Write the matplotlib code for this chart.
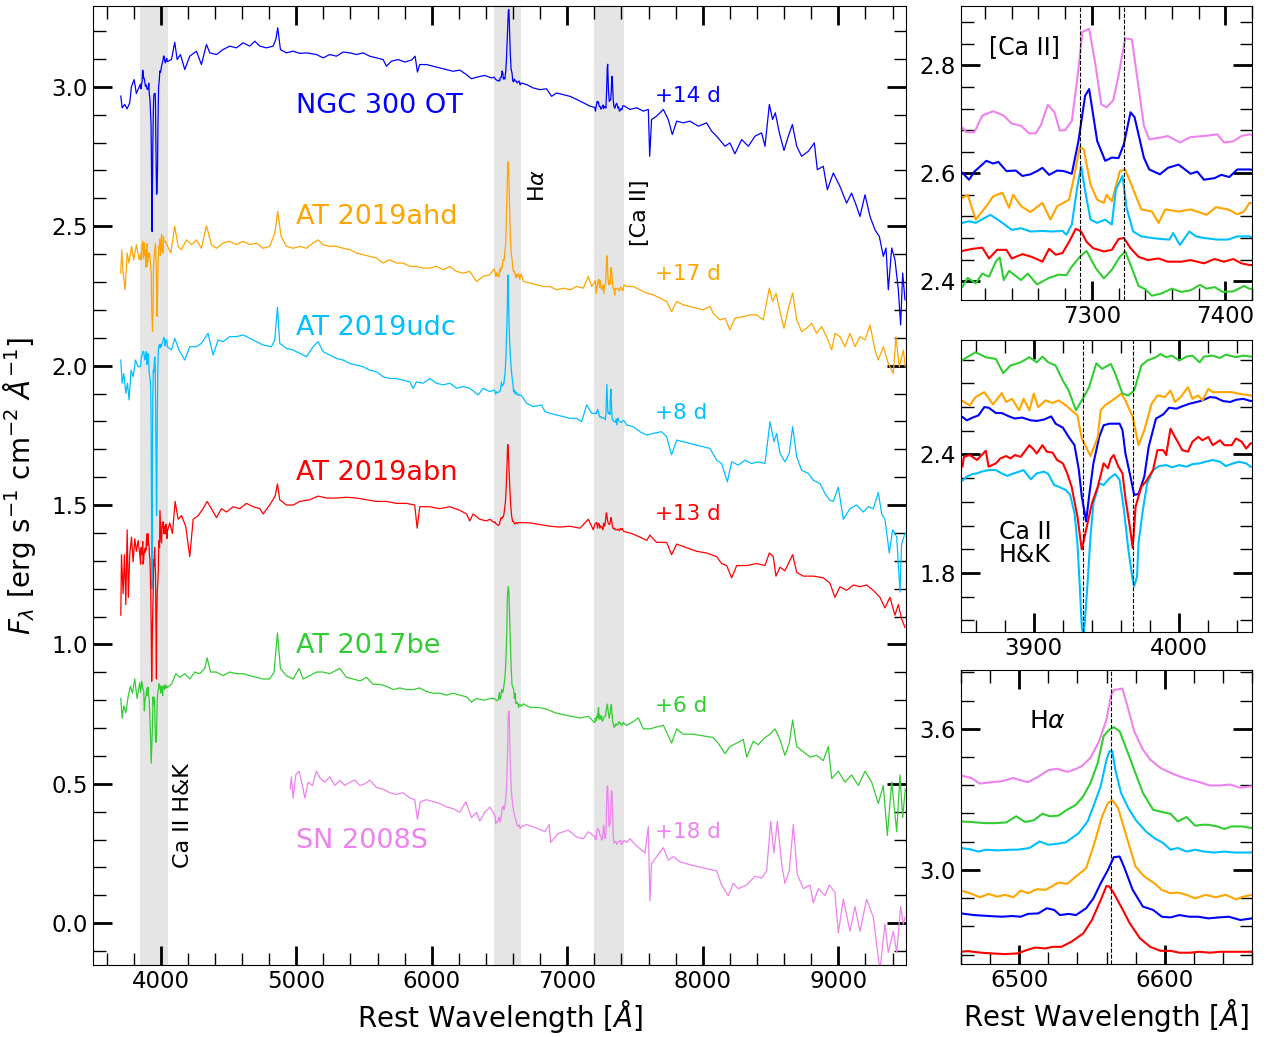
import numpy as np
import matplotlib.pyplot as plt
from matplotlib.ticker import MultipleLocator

# spectra as (rest wavelength [A], flux) pairs, flux already in the stacked units of the left panel
ngc300 = np.array([
    (3705, 2.967), (3715, 2.925), (3734, 2.937), (3751, 2.921), (3771, 2.943),
    (3783, 3.000), (3803, 3.026), (3820, 2.976), (3845, 3.005),
    (3851, 3.010), (3854, 2.993), (3858, 3.007), (3862, 3.018), (3866, 3.060),
    (3869, 3.057), (3874, 3.030), (3878, 3.030), (3883, 3.013), (3887, 3.002),
    (3892, 3.007), (3898, 2.993), (3902, 2.990), (3907, 2.997), (3912, 3.013),
    (3915, 2.976), (3920, 2.956), (3924, 2.909), (3928, 2.867), (3931, 2.741),
    (3933, 2.607), (3936, 2.481), (3938, 2.607), (3941, 2.775), (3945, 2.909),
    (3948, 2.968), (3952, 2.976), (3959, 2.976), (3961, 2.943), (3963, 2.825),
    (3966, 2.724), (3969, 2.615), (3972, 2.620), (3976, 2.708), (3979, 2.859),
    (3984, 3.002), (3989, 3.023), (3993, 3.057), (3998, 3.052), (4002, 3.064),
    (4007, 3.077), (4012, 3.086), (4016, 3.094), (4021, 3.111), (4025, 3.108),
    (4030, 3.091), (4035, 3.086), (4039, 3.097), (4044, 3.102), (4049, 3.091),
    (4079, 3.098), (4103, 3.160), (4121, 3.098), (4145, 3.116), (4177, 3.062),
    (4214, 3.110), (4263, 3.128), (4300, 3.080), (4337, 3.152), (4362, 3.122),
    (4411, 3.116), (4460, 3.134), (4509, 3.146), (4558, 3.140), (4608, 3.158),
    (4657, 3.146), (4694, 3.164), (4731, 3.146), (4780, 3.140), (4829, 3.146),
    (4849, 3.170), (4863, 3.212), (4883, 3.134), (4927, 3.122), (4977, 3.128),
    (5026, 3.120), (5075, 3.122), (5149, 3.116), (5198, 3.104), (5247, 3.116),
    (5296, 3.110), (5346, 3.125), (5395, 3.122), (5444, 3.116), (5493, 3.122),
    (5542, 3.110), (5592, 3.104), (5641, 3.098), (5665, 3.074), (5702, 3.092),
    (5752, 3.098), (5801, 3.089), (5850, 3.096), (5877, 3.110), (5894, 3.053),
    (5911, 3.080), (5961, 3.080), (6010, 3.074), (6059, 3.068), (6108, 3.062),
    (6157, 3.056), (6207, 3.060), (6256, 3.044), (6293, 3.029), (6342, 3.036),
    (6391, 3.041), (6440, 3.032),
    (6460, 3.035), (6469, 3.028), (6479, 3.024), (6488, 3.021), (6495, 3.024),
    (6501, 3.021), (6506, 3.033), (6513, 3.035), (6519, 3.057), (6524, 3.050),
    (6528, 3.028), (6534, 3.033), (6539, 3.028), (6546, 3.057), (6551, 3.099),
    (6556, 3.163), (6561, 3.220), (6565, 3.274), (6569, 3.277), (6572, 3.234),
    (6578, 3.135), (6585, 3.064), (6592, 3.050), (6598, 3.021), (6604, 3.018),
    (6610, 3.028), (6617, 3.021), (6623, 3.021), (6630, 3.014), (6637, 3.018),
    (6644, 3.021), (6652, 3.007), (6660, 3.014),
    (6700, 3.008), (6749, 2.996), (6798, 2.990), (6847, 2.993), (6884, 2.966),
    (6921, 2.978), (6971, 2.972), (7020, 2.966), (7069, 2.955), (7118, 2.943),
    (7167, 2.931),
    (7203, 2.926), (7208, 2.913), (7212, 2.928), (7221, 2.948), (7226, 2.943),
    (7230, 2.946), (7236, 2.929), (7243, 2.930), (7248, 2.920), (7254, 2.923),
    (7259, 2.929), (7263, 2.935), (7268, 2.922), (7274, 2.930), (7279, 2.929),
    (7285, 2.924), (7290, 2.985), (7295, 3.069), (7298, 3.081), (7304, 2.985),
    (7310, 2.948), (7315, 2.954), (7320, 2.953), (7324, 2.979), (7329, 3.038),
    (7332, 3.029), (7339, 2.954), (7343, 2.932), (7351, 2.923), (7357, 2.935),
    (7365, 2.941), (7374, 2.924), (7379, 2.928), (7384, 2.913), (7392, 2.916),
    (7397, 2.922), (7403, 2.918), (7409, 2.932), (7418, 2.932),
    (7462, 2.919), (7512, 2.925), (7561, 2.913), (7598, 2.919), (7608, 2.751),
    (7622, 2.883), (7659, 2.895), (7709, 2.919), (7745, 2.883), (7775, 2.829),
    (7807, 2.877), (7856, 2.871), (7905, 2.877), (7967, 2.859), (8028, 2.871),
    (8065, 2.841), (8102, 2.823), (8164, 2.787), (8200, 2.799), (8237, 2.760),
    (8287, 2.811), (8336, 2.787), (8385, 2.823), (8434, 2.835), (8459, 2.787),
    (8491, 2.937), (8515, 2.883), (8535, 2.907), (8565, 2.835), (8599, 2.772),
    (8631, 2.823), (8661, 2.865), (8693, 2.787), (8729, 2.751), (8779, 2.769),
    (8823, 2.799), (8845, 2.703), (8889, 2.715), (8919, 2.631), (8963, 2.691),
    (9012, 2.643), (9061, 2.583), (9098, 2.619), (9135, 2.571), (9160, 2.535),
    (9197, 2.613), (9234, 2.535), (9271, 2.487), (9303, 2.463), (9332, 2.392),
    (9352, 2.422), (9369, 2.272), (9394, 2.422), (9418, 2.380), (9443, 2.272),
    (9460, 2.146), (9475, 2.332), (9492, 2.236),
])

at19ahd = np.array([
    (3705, 2.332), (3712, 2.416), (3722, 2.332), (3737, 2.272), (3752, 2.404),
    (3766, 2.368), (3784, 2.428), (3801, 2.380), (3820, 2.434), (3840, 2.380),
    (3851, 2.401), (3856, 2.379), (3860, 2.421), (3866, 2.446), (3872, 2.384),
    (3878, 2.441), (3881, 2.396), (3885, 2.412), (3890, 2.354), (3893, 2.412),
    (3897, 2.354), (3900, 2.438), (3903, 2.370), (3908, 2.404), (3913, 2.391),
    (3917, 2.404), (3922, 2.379), (3926, 2.354), (3930, 2.328), (3933, 2.211),
    (3939, 2.122), (3944, 2.219), (3946, 2.354), (3949, 2.379), (3954, 2.404),
    (3960, 2.438), (3963, 2.404), (3968, 2.320), (3972, 2.177), (3976, 2.253),
    (3981, 2.387), (3985, 2.429), (3990, 2.421), (3994, 2.454), (3997, 2.396),
    (4001, 2.421), (4006, 2.471), (4009, 2.412), (4013, 2.429), (4016, 2.404),
    (4020, 2.463), (4023, 2.446), (4029, 2.446), (4036, 2.446), (4041, 2.438),
    (4049, 2.429),
    (4074, 2.404), (4103, 2.500), (4128, 2.428), (4153, 2.416), (4189, 2.451),
    (4226, 2.434), (4263, 2.451), (4300, 2.421), (4337, 2.502), (4374, 2.434),
    (4411, 2.421), (4460, 2.440), (4509, 2.446), (4558, 2.434), (4608, 2.446),
    (4657, 2.434), (4706, 2.440), (4755, 2.421), (4804, 2.428), (4841, 2.475),
    (4863, 2.553), (4888, 2.463), (4927, 2.428), (4977, 2.421), (5026, 2.428),
    (5075, 2.421), (5124, 2.440), (5161, 2.451), (5198, 2.434), (5247, 2.428),
    (5296, 2.428), (5346, 2.421), (5395, 2.416), (5444, 2.404), (5493, 2.398),
    (5542, 2.392), (5592, 2.386), (5641, 2.368), (5690, 2.380), (5739, 2.368),
    (5788, 2.368), (5838, 2.356), (5887, 2.356), (5936, 2.350), (5985, 2.350),
    (6034, 2.356), (6084, 2.344), (6133, 2.356), (6182, 2.338), (6231, 2.332),
    (6280, 2.338), (6330, 2.302), (6379, 2.320), (6428, 2.326),
    (6460, 2.347), (6466, 2.336), (6473, 2.319), (6479, 2.333), (6485, 2.321),
    (6490, 2.329), (6496, 2.319), (6501, 2.347), (6506, 2.336), (6512, 2.353),
    (6518, 2.350), (6523, 2.367), (6527, 2.381), (6533, 2.376), (6539, 2.407),
    (6546, 2.442), (6551, 2.535), (6557, 2.663), (6561, 2.720), (6564, 2.731),
    (6568, 2.698), (6573, 2.592), (6580, 2.449), (6586, 2.407), (6593, 2.378),
    (6598, 2.350), (6604, 2.336), (6609, 2.339), (6615, 2.329), (6621, 2.314),
    (6628, 2.329), (6635, 2.319), (6642, 2.329), (6649, 2.310), (6654, 2.321),
    (6660, 2.329),
    (6675, 2.302), (6725, 2.296), (6774, 2.290), (6823, 2.284), (6872, 2.284),
    (6921, 2.272), (6971, 2.278), (7020, 2.272), (7069, 2.284), (7118, 2.278),
    (7155, 2.320), (7180, 2.284),
    (7203, 2.299), (7207, 2.305), (7213, 2.259), (7221, 2.284), (7226, 2.302),
    (7233, 2.309), (7238, 2.281), (7241, 2.305), (7247, 2.284), (7254, 2.273),
    (7263, 2.290), (7269, 2.259), (7274, 2.284), (7283, 2.296), (7286, 2.330),
    (7291, 2.394), (7294, 2.389), (7299, 2.324), (7304, 2.296), (7309, 2.290),
    (7311, 2.305), (7315, 2.293), (7321, 2.349), (7325, 2.352), (7332, 2.309),
    (7337, 2.278), (7345, 2.274), (7350, 2.253), (7355, 2.278), (7365, 2.274),
    (7374, 2.278), (7386, 2.268), (7393, 2.282), (7402, 2.278), (7409, 2.269),
    (7414, 2.274), (7418, 2.290),
    (7438, 2.284), (7487, 2.284), (7536, 2.272), (7586, 2.260), (7635, 2.254),
    (7684, 2.242), (7733, 2.230), (7770, 2.194), (7807, 2.230), (7856, 2.218),
    (7905, 2.212), (7954, 2.206), (8004, 2.200), (8053, 2.212), (8077, 2.188),
    (8127, 2.164), (8164, 2.170), (8200, 2.128), (8237, 2.170), (8299, 2.176),
    (8348, 2.182), (8397, 2.182), (8446, 2.164), (8491, 2.278), (8515, 2.230),
    (8540, 2.260), (8570, 2.194), (8599, 2.134), (8631, 2.206), (8663, 2.260),
    (8693, 2.164), (8729, 2.122), (8766, 2.134), (8803, 2.152), (8840, 2.116),
    (8877, 2.140), (8914, 2.104), (8951, 2.056), (8975, 2.116), (9012, 2.104),
    (9049, 2.068), (9086, 2.116), (9123, 2.068), (9160, 2.104), (9197, 2.092),
    (9234, 2.146), (9271, 2.056), (9295, 2.020), (9332, 2.068), (9369, 2.008),
    (9406, 1.972), (9425, 2.104), (9450, 1.996), (9480, 2.056), (9494, 1.996),
])

at19udc = np.array([
    (3705, 2.020), (3715, 1.937), (3727, 1.972), (3742, 1.901), (3754, 1.937),
    (3766, 1.877), (3781, 1.984), (3796, 1.960), (3813, 2.020), (3833, 1.996),
    (3851, 1.997), (3854, 2.018), (3858, 2.031), (3861, 2.034), (3864, 2.043),
    (3869, 2.051), (3874, 2.051), (3878, 2.034), (3882, 2.021), (3885, 2.031),
    (3890, 2.043), (3893, 2.051), (3898, 2.004), (3902, 2.034), (3907, 2.043),
    (3910, 2.031), (3914, 1.975), (3917, 1.967), (3922, 1.950), (3925, 1.925),
    (3928, 1.833), (3930, 1.681), (3931.5, 1.480), (3933, 1.260), (3934, 1.200),
    (3935, 1.270), (3937, 1.480), (3939, 1.715), (3941, 1.883), (3945, 1.984),
    (3948, 1.975), (3952, 2.009), (3956, 2.031), (3959, 2.001), (3962, 1.849),
    (3965, 1.648), (3968, 1.496), (3969, 1.463), (3971, 1.513), (3972, 1.681),
    (3975, 1.849), (3978, 1.984), (3982, 2.051), (3986, 2.071), (3991, 2.076),
    (3995, 2.065), (4000, 2.076), (4005, 2.068), (4009, 2.081), (4014, 2.085),
    (4018, 2.093), (4023, 2.102), (4028, 2.093), (4032, 2.071), (4037, 2.085),
    (4041, 2.093), (4046, 2.085), (4049, 2.068),
    (4079, 2.056), (4103, 2.098), (4135, 2.056), (4177, 2.020), (4214, 2.068),
    (4263, 2.068), (4300, 2.080), (4349, 2.116), (4386, 2.038), (4423, 2.092),
    (4460, 2.086), (4509, 2.104), (4558, 2.104), (4608, 2.110), (4657, 2.098),
    (4706, 2.086), (4755, 2.074), (4817, 2.068), (4841, 2.092), (4861, 2.210),
    (4878, 2.080), (4927, 2.062), (4977, 2.056), (5026, 2.044), (5075, 2.032),
    (5124, 2.068), (5161, 2.086), (5198, 2.050), (5247, 2.038), (5296, 2.026),
    (5346, 2.020), (5395, 2.008), (5444, 2.002), (5493, 1.996), (5542, 1.984),
    (5592, 1.978), (5641, 1.960), (5690, 1.954), (5739, 1.954), (5788, 1.948),
    (5838, 1.942), (5862, 1.918), (5887, 1.942), (5936, 1.937), (5985, 1.954),
    (6034, 1.937), (6084, 1.931), (6133, 1.937), (6182, 1.919), (6231, 1.925),
    (6280, 1.919), (6342, 1.895), (6379, 1.919), (6428, 1.907),
    (6460, 1.913), (6466, 1.908), (6472, 1.898), (6477, 1.906), (6485, 1.903),
    (6494, 1.906), (6499, 1.906), (6507, 1.913), (6514, 1.941), (6520, 1.927),
    (6526, 1.931), (6532, 1.937), (6536, 1.955), (6541, 1.977), (6547, 2.026),
    (6551, 2.090), (6556, 2.176), (6560, 2.289), (6562, 2.325), (6564, 2.325),
    (6566, 2.247), (6570, 2.147), (6575, 2.083), (6580, 2.033), (6587, 1.984),
    (6593, 1.955), (6599, 1.934), (6604, 1.906), (6609, 1.913), (6615, 1.898),
    (6621, 1.906), (6627, 1.898), (6634, 1.894), (6641, 1.898), (6648, 1.894),
    (6660, 1.894),
    (6700, 1.865), (6749, 1.853), (6811, 1.859), (6835, 1.835), (6872, 1.829),
    (6921, 1.823), (6971, 1.817), (7020, 1.811), (7069, 1.811), (7106, 1.799),
    (7143, 1.859), (7180, 1.829),
    (7203, 1.828), (7208, 1.831), (7213, 1.828), (7224, 1.843), (7233, 1.828),
    (7240, 1.815), (7247, 1.818), (7254, 1.812), (7263, 1.813), (7270, 1.812),
    (7278, 1.813), (7281, 1.806), (7285, 1.825), (7289, 1.893), (7292, 1.933),
    (7295, 1.887), (7299, 1.834), (7304, 1.828), (7310, 1.834), (7315, 1.825),
    (7318, 1.890), (7323, 1.915), (7326, 1.856), (7331, 1.812), (7337, 1.803),
    (7345, 1.800), (7352, 1.798), (7358, 1.797), (7361, 1.809), (7366, 1.787),
    (7373, 1.812), (7378, 1.803), (7384, 1.800), (7394, 1.797), (7402, 1.797),
    (7409, 1.803), (7418, 1.803),
    (7438, 1.787), (7487, 1.781), (7536, 1.763), (7586, 1.751), (7635, 1.757),
    (7696, 1.763), (7733, 1.745), (7770, 1.680), (7807, 1.733), (7856, 1.727),
    (7905, 1.721), (7954, 1.715), (8004, 1.709), (8053, 1.703), (8102, 1.661),
    (8139, 1.649), (8181, 1.583), (8213, 1.655), (8262, 1.643), (8311, 1.661),
    (8360, 1.649), (8409, 1.655), (8459, 1.649), (8496, 1.799), (8525, 1.727),
    (8545, 1.757), (8570, 1.685), (8606, 1.655), (8638, 1.685), (8663, 1.781),
    (8693, 1.673), (8729, 1.625), (8779, 1.613), (8816, 1.589), (8865, 1.577),
    (8902, 1.541), (8938, 1.517), (8963, 1.513), (9000, 1.564), (9037, 1.449),
    (9086, 1.487), (9135, 1.500), (9184, 1.475), (9221, 1.494), (9258, 1.487),
    (9295, 1.545), (9320, 1.468), (9344, 1.449), (9376, 1.328), (9401, 1.411),
    (9431, 1.385), (9455, 1.188), (9467, 1.360), (9492, 1.398),
])

at19abn = np.array([
    (3705, 1.105), (3710, 1.322), (3722, 1.182), (3732, 1.322), (3742, 1.143),
    (3752, 1.411), (3761, 1.169), (3771, 1.322), (3784, 1.385), (3796, 1.296),
    (3808, 1.379), (3820, 1.334), (3833, 1.373), (3845, 1.322),
    (3851, 1.288), (3852, 1.338), (3856, 1.347), (3861, 1.322), (3867, 1.369),
    (3869, 1.288), (3874, 1.305), (3877, 1.330), (3881, 1.342), (3884, 1.330),
    (3887, 1.347), (3891, 1.338), (3897, 1.397), (3900, 1.375), (3902, 1.355),
    (3906, 1.397), (3909, 1.364), (3913, 1.359), (3916, 1.322), (3920, 1.305),
    (3923, 1.254), (3926, 1.187), (3930, 1.036), (3933, 0.868), (3937, 1.002),
    (3940, 1.103), (3944, 1.187), (3948, 1.305), (3951, 1.280), (3953, 1.330),
    (3955, 1.347), (3958, 1.291), (3961, 1.254), (3963, 1.128), (3966, 0.985),
    (3968, 0.876), (3970, 1.086), (3974, 1.187), (3977, 1.212), (3982, 1.271),
    (3985, 1.372), (3989, 1.372), (3991, 1.347), (3994, 1.481), (3997, 1.439),
    (3999, 1.414), (4002, 1.372), (4006, 1.364), (4009, 1.414), (4013, 1.439),
    (4016, 1.422), (4020, 1.439), (4023, 1.397), (4028, 1.422), (4031, 1.397),
    (4036, 1.397), (4039, 1.431), (4043, 1.414), (4046, 1.380), (4049, 1.406),
    (4066, 1.436), (4086, 1.398), (4106, 1.513), (4128, 1.449), (4153, 1.462),
    (4184, 1.424), (4214, 1.315), (4239, 1.449), (4276, 1.462), (4312, 1.487),
    (4342, 1.513), (4374, 1.487), (4411, 1.455), (4448, 1.487), (4485, 1.475),
    (4534, 1.494), (4583, 1.487), (4632, 1.506), (4681, 1.494), (4731, 1.487),
    (4755, 1.468), (4804, 1.500), (4844, 1.532), (4861, 1.576), (4878, 1.519),
    (4927, 1.500), (4977, 1.500), (5026, 1.513), (5100, 1.519), (5161, 1.532),
    (5223, 1.525), (5296, 1.525), (5370, 1.528), (5444, 1.525), (5518, 1.519),
    (5592, 1.513), (5665, 1.513), (5739, 1.506), (5813, 1.506), (5874, 1.500),
    (5892, 1.417), (5911, 1.494), (5985, 1.494), (6059, 1.487), (6133, 1.494),
    (6207, 1.481), (6256, 1.468), (6280, 1.443), (6305, 1.468), (6354, 1.449),
    (6403, 1.443), (6429, 1.449),
    (6460, 1.437), (6465, 1.440), (6468, 1.437), (6474, 1.433), (6481, 1.430),
    (6490, 1.427), (6499, 1.430), (6505, 1.444), (6511, 1.455), (6518, 1.451),
    (6523, 1.458), (6529, 1.458), (6536, 1.480), (6544, 1.515), (6550, 1.572),
    (6556, 1.657), (6560, 1.717), (6562, 1.714), (6565, 1.686), (6570, 1.629),
    (6576, 1.558), (6583, 1.494), (6590, 1.458), (6597, 1.441), (6604, 1.441),
    (6610, 1.433), (6617, 1.433), (6624, 1.437), (6631, 1.433), (6638, 1.437),
    (6646, 1.437), (6653, 1.437), (6660, 1.437),
    (6725, 1.436), (6798, 1.430), (6872, 1.424), (6946, 1.421), (7020, 1.424),
    (7094, 1.417), (7155, 1.449), (7192, 1.411),
    (7203, 1.431), (7211, 1.435), (7218, 1.437), (7223, 1.417), (7229, 1.433),
    (7236, 1.433), (7240, 1.417), (7248, 1.425), (7255, 1.420), (7263, 1.411),
    (7268, 1.435), (7273, 1.424), (7278, 1.427), (7283, 1.448), (7288, 1.472),
    (7292, 1.467), (7296, 1.448), (7301, 1.436), (7309, 1.430), (7315, 1.433),
    (7320, 1.453), (7324, 1.455), (7329, 1.436), (7335, 1.420), (7342, 1.414),
    (7350, 1.417), (7357, 1.411), (7367, 1.411), (7374, 1.414), (7384, 1.408),
    (7392, 1.416), (7399, 1.411), (7406, 1.416), (7412, 1.408), (7418, 1.405),
    (7475, 1.398), (7536, 1.385), (7586, 1.373), (7610, 1.392), (7659, 1.366),
    (7733, 1.366), (7770, 1.322), (7807, 1.360), (7881, 1.347), (7954, 1.334),
    (8028, 1.328), (8102, 1.315), (8139, 1.290), (8176, 1.283), (8213, 1.239),
    (8250, 1.283), (8324, 1.283), (8397, 1.290), (8459, 1.283), (8491, 1.328),
    (8520, 1.315), (8540, 1.245), (8570, 1.277), (8606, 1.264), (8663, 1.322),
    (8693, 1.258), (8742, 1.245), (8816, 1.245), (8889, 1.239), (8938, 1.220),
    (8975, 1.169), (9012, 1.207), (9061, 1.194), (9111, 1.213), (9160, 1.207),
    (9209, 1.213), (9258, 1.194), (9307, 1.169), (9344, 1.131), (9381, 1.169),
    (9418, 1.105), (9443, 1.143), (9467, 1.092), (9492, 1.061),
])

at17be = np.array([
    (3705, 0.806), (3715, 0.736), (3727, 0.780), (3742, 0.755), (3759, 0.812),
    (3776, 0.850), (3791, 0.825), (3808, 0.876), (3825, 0.806), (3845, 0.863),
    (3851, 0.829), (3860, 0.868), (3867, 0.843), (3874, 0.834), (3879, 0.762),
    (3884, 0.801), (3891, 0.817), (3897, 0.843), (3902, 0.817), (3906, 0.846),
    (3910, 0.817), (3915, 0.801), (3920, 0.725), (3924, 0.674), (3929, 0.574),
    (3935, 0.649), (3938, 0.691), (3943, 0.812), (3947, 0.784), (3953, 0.809),
    (3956, 0.759), (3961, 0.658), (3965, 0.649), (3969, 0.674), (3974, 0.801),
    (3978, 0.826), (3984, 0.843), (3987, 0.859), (3991, 0.843), (3995, 0.851),
    (4000, 0.826), (4005, 0.846), (4009, 0.851), (4014, 0.817), (4017, 0.846),
    (4023, 0.851), (4028, 0.839), (4032, 0.856), (4039, 0.843), (4044, 0.851),
    (4049, 0.846),
    (4079, 0.857), (4111, 0.895), (4140, 0.882), (4177, 0.895), (4214, 0.876),
    (4251, 0.901), (4288, 0.895), (4325, 0.914), (4342, 0.952), (4367, 0.901),
    (4411, 0.901), (4460, 0.888), (4509, 0.901), (4558, 0.895), (4608, 0.895),
    (4657, 0.888), (4706, 0.882), (4755, 0.876), (4804, 0.876), (4836, 0.901),
    (4861, 1.041), (4883, 0.914), (4927, 0.888), (4977, 0.876), (5021, 0.914),
    (5050, 0.876), (5100, 0.888), (5149, 0.901), (5198, 0.901), (5247, 0.895),
    (5321, 0.914), (5370, 0.882), (5419, 0.876), (5469, 0.869), (5518, 0.882),
    (5567, 0.857), (5616, 0.857), (5665, 0.850), (5715, 0.838), (5764, 0.844),
    (5813, 0.838), (5862, 0.838), (5911, 0.844), (5961, 0.831), (6010, 0.825),
    (6059, 0.825), (6108, 0.818), (6157, 0.825), (6207, 0.818), (6256, 0.812),
    (6293, 0.793), (6330, 0.806), (6391, 0.800), (6430, 0.806),
    (6460, 0.806), (6467, 0.804), (6476, 0.799), (6484, 0.799), (6491, 0.802),
    (6498, 0.828), (6504, 0.804), (6510, 0.811), (6516, 0.839), (6521, 0.828),
    (6527, 0.831), (6533, 0.856), (6539, 0.877), (6544, 0.913), (6549, 0.970),
    (6554, 1.055), (6558, 1.169), (6562, 1.197), (6565, 1.207), (6569, 1.190),
    (6573, 1.126), (6579, 1.027), (6585, 0.927), (6592, 0.856), (6599, 0.845),
    (6604, 0.839), (6609, 0.806), (6615, 0.825), (6621, 0.788), (6626, 0.792),
    (6630, 0.792), (6636, 0.785), (6641, 0.774), (6646, 0.785), (6653, 0.785),
    (6660, 0.778),
    (6675, 0.787), (6725, 0.774), (6786, 0.774), (6847, 0.768), (6909, 0.755),
    (6971, 0.748), (7032, 0.742), (7094, 0.736), (7155, 0.742),
    (7203, 0.719), (7207, 0.736), (7213, 0.726), (7218, 0.744), (7223, 0.738),
    (7228, 0.766), (7231, 0.774), (7234, 0.732), (7238, 0.749), (7247, 0.732),
    (7252, 0.744), (7259, 0.724), (7268, 0.736), (7275, 0.742), (7281, 0.741),
    (7285, 0.757), (7291, 0.775), (7296, 0.786), (7303, 0.754), (7309, 0.735),
    (7315, 0.751), (7321, 0.775), (7325, 0.785), (7330, 0.754), (7335, 0.721),
    (7340, 0.715), (7345, 0.703), (7352, 0.707), (7360, 0.716), (7367, 0.710),
    (7374, 0.713), (7381, 0.723), (7386, 0.716), (7392, 0.719), (7398, 0.710),
    (7406, 0.711), (7414, 0.721), (7418, 0.716),
    (7438, 0.710), (7487, 0.723), (7524, 0.736), (7561, 0.697), (7610, 0.697),
    (7659, 0.704), (7709, 0.710), (7770, 0.646), (7807, 0.697), (7856, 0.678),
    (7930, 0.678), (8004, 0.672), (8077, 0.666), (8114, 0.646), (8164, 0.608),
    (8200, 0.634), (8250, 0.646), (8299, 0.659), (8324, 0.596), (8373, 0.653),
    (8409, 0.640), (8459, 0.666), (8496, 0.678), (8533, 0.697), (8570, 0.659),
    (8606, 0.602), (8638, 0.646), (8663, 0.729), (8693, 0.634), (8742, 0.615),
    (8791, 0.596), (8840, 0.602), (8889, 0.583), (8926, 0.634), (8951, 0.519),
    (9000, 0.545), (9049, 0.506), (9098, 0.532), (9148, 0.494), (9197, 0.545),
    (9246, 0.506), (9295, 0.430), (9332, 0.494), (9362, 0.315), (9394, 0.506),
    (9431, 0.328), (9455, 0.532), (9475, 0.379), (9494, 0.481),
])

sn08s = np.array([
    (4955, 0.481), (4964, 0.525), (4977, 0.449), (4996, 0.532), (5021, 0.545),
    (5045, 0.494), (5063, 0.449), (5087, 0.506), (5119, 0.494), (5149, 0.545),
    (5178, 0.519), (5210, 0.506), (5247, 0.525), (5284, 0.494), (5321, 0.513),
    (5358, 0.494), (5395, 0.506), (5432, 0.513), (5469, 0.494), (5506, 0.500),
    (5542, 0.513), (5592, 0.487), (5641, 0.481), (5690, 0.468), (5739, 0.462),
    (5788, 0.468), (5838, 0.449), (5874, 0.443), (5894, 0.373), (5916, 0.436),
    (5961, 0.443), (6010, 0.436), (6059, 0.430), (6108, 0.417), (6157, 0.411),
    (6207, 0.398), (6251, 0.436), (6293, 0.379), (6330, 0.398), (6354, 0.366),
    (6391, 0.398), (6429, 0.417),
    (6460, 0.391), (6467, 0.381), (6473, 0.357), (6481, 0.363), (6488, 0.367),
    (6496, 0.381), (6501, 0.371), (6506, 0.363), (6513, 0.386), (6520, 0.414),
    (6526, 0.420), (6533, 0.407), (6538, 0.417), (6543, 0.431), (6549, 0.467),
    (6555, 0.538), (6560, 0.630), (6563, 0.730), (6565, 0.755), (6571, 0.761),
    (6575, 0.673), (6579, 0.580), (6585, 0.502), (6590, 0.459), (6597, 0.424),
    (6604, 0.403), (6610, 0.388), (6617, 0.374), (6624, 0.363), (6631, 0.349),
    (6638, 0.349), (6645, 0.353), (6652, 0.339), (6660, 0.346),
    (6700, 0.354), (6774, 0.341), (6835, 0.328), (6867, 0.354), (6877, 0.290),
    (6934, 0.322), (7007, 0.334), (7069, 0.309), (7118, 0.303), (7155, 0.328),
    (7203, 0.310), (7206, 0.301), (7212, 0.301), (7218, 0.332), (7226, 0.340),
    (7234, 0.332), (7240, 0.317), (7247, 0.313), (7253, 0.299), (7258, 0.299),
    (7262, 0.315), (7267, 0.352), (7272, 0.338), (7276, 0.304), (7280, 0.305),
    (7285, 0.322), (7289, 0.397), (7293, 0.487), (7298, 0.493), (7303, 0.422),
    (7307, 0.353), (7311, 0.347), (7316, 0.360), (7320, 0.406), (7325, 0.475),
    (7330, 0.473), (7335, 0.385), (7339, 0.313), (7343, 0.288), (7351, 0.291),
    (7357, 0.294), (7366, 0.282), (7374, 0.292), (7384, 0.294), (7394, 0.297),
    (7399, 0.282), (7406, 0.284), (7412, 0.294), (7418, 0.297),
    (7438, 0.290), (7462, 0.303), (7512, 0.277), (7573, 0.252), (7598, 0.347),
    (7610, 0.080), (7622, 0.213), (7659, 0.239), (7709, 0.271), (7745, 0.226),
    (7782, 0.239), (7832, 0.220), (7881, 0.213), (7930, 0.207), (7979, 0.201),
    (8041, 0.194), (8102, 0.188), (8139, 0.137), (8188, 0.099), (8225, 0.143),
    (8262, 0.124), (8324, 0.137), (8385, 0.169), (8434, 0.162), (8471, 0.188),
    (8501, 0.366), (8525, 0.252), (8550, 0.366), (8582, 0.213), (8606, 0.143),
    (8638, 0.188), (8668, 0.354), (8697, 0.175), (8742, 0.124), (8791, 0.137),
    (8816, 0.073), (8852, 0.124), (8902, 0.099), (8934, 0.137), (8975, 0.111),
    (9000, -0.035), (9037, 0.086), (9086, -0.029), (9123, 0.060), (9160, -0.029),
    (9209, 0.086), (9258, 0.022), (9307, -0.169), (9344, -0.003), (9369, -0.105),
    (9406, -0.029), (9431, -0.105), (9460, 0.060), (9480, -0.003), (9494, 0.022),
])

spectra = [ngc300, at19ahd, at19udc, at19abn, at17be, sn08s]
names = ['NGC 300 OT', 'AT 2019ahd', 'AT 2019udc', 'AT 2019abn', 'AT 2017be', 'SN 2008S']
phases = ['+14 d', '+17 d', '+8 d', '+13 d', '+6 d', '+18 d']
colors = ['blue', 'orange', 'deepskyblue', 'red', 'limegreen', 'violet']

# vertical shifts used in the zoom panels (None = not covered)
shift_caii = [-0.325, 0.255, 0.68, 1.025, 1.67, 2.375]
shift_hk = [-0.42, 0.27, 0.27, 1.05, 2.05, None]
shift_ha = [-0.22, 0.565, 1.18, 1.215, 2.4, 3.01]

# label heights on the left panel
name_y = [2.93, 2.533, 2.135, 1.615, 0.994, 0.294]
phase_y = [2.967, 2.329, 1.83, 1.468, 0.779, 0.327]

fig = plt.figure(figsize=(12.69, 10.37), dpi=100)
ax = fig.add_axes([0.0733, 0.0694, 0.6407, 0.9248])
ax_ca = fig.add_axes([0.7573, 0.7107, 0.2293, 0.2835])
ax_hk = fig.add_axes([0.7573, 0.3905, 0.2293, 0.2816])
ax_ha = fig.add_axes([0.7573, 0.0704, 0.2293, 0.2835])

windows = [(3850, 4050), (6460, 6660), (7200, 7420)]
for lo, hi in windows:
    ax.axvspan(lo, hi, color='gray', alpha=0.2, lw=0, zorder=0)

for spec, c in zip(spectra, colors):
    order = np.argsort(spec[:, 0])
    ax.plot(spec[order, 0], spec[order, 1], color=c, lw=0.9)

for n, p, c, ny, py in zip(names, phases, colors, name_y, phase_y):
    ax.text(5000, ny, n, color=c, fontsize=19.5, ha='left', va='center')
    ax.text(7650, py, p, color=c, fontsize=15.5, ha='left', va='center')

ax.text(6783, 2.648, r'H$\alpha$', rotation=90, fontsize=16, ha='center', va='center')
ax.text(7535, 2.548, '[Ca II]', rotation=90, fontsize=16, ha='center', va='center')
ax.text(4167, 0.385, 'Ca II H&K', rotation=90, fontsize=16, ha='center', va='center')

ax.set_xlim(3500, 9500)
ax.set_ylim(-0.15, 3.29)
ax.xaxis.set_major_locator(MultipleLocator(1000))
ax.xaxis.set_minor_locator(MultipleLocator(200))
ax.yaxis.set_major_locator(MultipleLocator(0.5))
ax.yaxis.set_minor_locator(MultipleLocator(0.1))
ax.set_xlabel(r'Rest Wavelength [$\AA$]', fontsize=20)
ax.set_ylabel(r'$F_\lambda$ [erg s$^{-1}$ cm$^{-2}$ $\AA^{-1}$]', fontsize=20, labelpad=10)


def zoom_panel(a, xlim, ylim, shifts, lines, ymajor):
    for spec, c, s in zip(spectra, colors, shifts):
        if s is None:
            continue
        order = np.argsort(spec[:, 0])
        a.plot(spec[order, 0], spec[order, 1] + s, color=c, lw=1.5)
    for w in lines:
        a.axvline(w, color='k', ls='--', lw=0.8)
    a.set_xlim(*xlim)
    a.set_ylim(*ylim)
    a.xaxis.set_major_locator(MultipleLocator(100))
    a.xaxis.set_minor_locator(MultipleLocator(20))
    a.yaxis.set_major_locator(MultipleLocator(ymajor))
    a.yaxis.set_minor_locator(MultipleLocator(ymajor / 5))


zoom_panel(ax_ca, (7202, 7420), (2.365, 2.91), shift_caii, [7291.5, 7323.9], 0.2)
zoom_panel(ax_hk, (3850, 4050), (1.5, 2.98), shift_hk, [3933.7, 3968.5], 0.6)
zoom_panel(ax_ha, (6460, 6660), (2.6, 3.85), shift_ha, [6563.0], 0.6)

ax_ca.text(7223, 2.833, '[Ca II]', fontsize=17, ha='left', va='center')
ax_hk.text(3876, 1.948, 'Ca II\nH&K', fontsize=17, ha='left', va='center', linespacing=0.95)
ax_ha.text(6507, 3.632, r'H$\alpha$', fontsize=18, ha='left', va='center')
ax_ha.set_xlabel(r'Rest Wavelength [$\AA$]', fontsize=20)

for a in [ax, ax_ca, ax_hk, ax_ha]:
    a.tick_params(which='both', direction='in', top=True, right=True, labelsize=16.5)
    a.tick_params(which='major', length=14, width=2)
    a.tick_params(which='minor', length=9, width=1)

fig.savefig('out.png', dpi=100)
